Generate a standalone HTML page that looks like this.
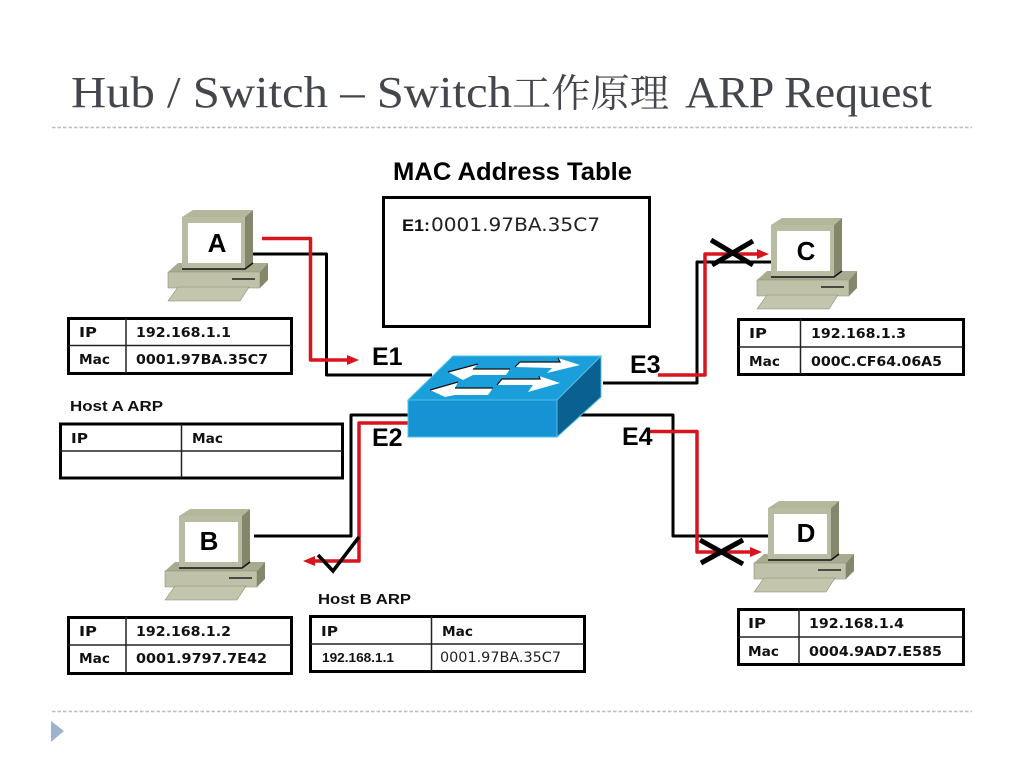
<!DOCTYPE html>
<html lang="zh">
<head>
<meta charset="utf-8">
<title>Hub / Switch – Switch工作原理 ARP Request</title>
<style>
html,body{margin:0;padding:0;background:#fff;}
svg{display:block;}
.t{font-family:"DejaVu Sans",sans-serif;font-weight:bold;font-size:13px;fill:#111;}
.h{font-family:"Liberation Sans",sans-serif;font-weight:bold;font-size:15px;fill:#111;}
.e{font-family:"Liberation Sans",sans-serif;font-weight:bold;font-size:25px;fill:#000;}
.l{font-family:"Liberation Sans",sans-serif;font-weight:bold;font-size:26px;fill:#000;text-anchor:middle;}
.title{font-family:"Liberation Serif","Noto Serif CJK SC",serif;font-size:44px;fill:#44464d;}
.bk{fill:none;stroke:#000;stroke-width:3;stroke-linejoin:round;}
.rd{fill:none;stroke:#d8141c;stroke-width:3.500;stroke-linejoin:round;}
.tb{fill:#fff;stroke:#000;stroke-width:3;}
.ln{stroke:#222;stroke-width:1.5;fill:none;}
</style>
</head>
<body>
<svg width="1024" height="768" viewBox="0 0 1024 768" xmlns="http://www.w3.org/2000/svg">
<defs>
<g id="pc">
  <polygon points="0,62 10,53 100,53 92,62" fill="#a9ab90"/>
  <polygon points="0,62 92,62 92,78 0,78" fill="#bfc1a8" stroke="#8a8c74" stroke-width=".6"/>
  <polygon points="92,62 100,53 100,70 92,78" fill="#85876d"/>
  <line x1="64" y1="69" x2="87" y2="69" stroke="#222" stroke-width="1.5"/>
  <polygon points="0,91 10,77 81,77 72,91" fill="#c3c5ad" stroke="#8a8c74" stroke-width=".6"/>
  <polygon points="14,7 25,0 85,0 77,7" fill="#b5b79d"/>
  <polygon points="77,7 85,0 85,53 77,59" fill="#85876d"/>
  <polygon points="14,7 77,7 77,59 14,59" fill="#b9bba2"/>
  <path d="M14,59H77L85,53" fill="none" stroke="#111" stroke-width="1.5"/>
  <rect x="20" y="13" width="53" height="40" fill="#fff"/>
</g>
</defs>

<rect width="1024" height="768" fill="#fff"/>

<!-- Title -->
<text class="title" x="71" y="107" textLength="441" lengthAdjust="spacingAndGlyphs">Hub / Switch – Switch</text>
<text class="title" x="512" y="107" textLength="157" lengthAdjust="spacingAndGlyphs" style="font-size:39px">工作原理</text>
<text class="title" x="685" y="107" textLength="247" lengthAdjust="spacingAndGlyphs">ARP Request</text>
<line x1="52" y1="127.500" x2="972" y2="127.500" stroke="#bdbdbd" stroke-width="1.500" stroke-dasharray="3.500 2"/>
<line x1="52" y1="711.500" x2="972" y2="711.500" stroke="#bdbdbd" stroke-width="1.500" stroke-dasharray="3.500 2"/>
<polygon points="51,721 64,731 51,742" fill="#9db2cc"/>

<!-- MAC table -->
<text x="393" y="180" font-family="'Liberation Sans',sans-serif" font-weight="bold" font-size="25" fill="#000" textLength="239" lengthAdjust="spacingAndGlyphs">MAC Address Table</text>
<rect x="383.500" y="197.500" width="266" height="129" fill="#fff" stroke="#000" stroke-width="3"/>
<text x="402" y="231" class="h" style="font-size:17px" textLength="28" lengthAdjust="spacingAndGlyphs">E1:</text>
<text x="431" y="231" font-family="'DejaVu Sans',sans-serif" font-size="19" fill="#222" textLength="169" lengthAdjust="spacingAndGlyphs">0001.97BA.35C7</text>

<!-- Wires -->
<path class="bk" d="M253,254H326.500V375H432"/>
<path class="rd" d="M262,238.500H310.500V360H350"/>
<polygon points="347,355 359,360 347,365" fill="#d8141c"/>

<path class="bk" d="M603,383H697V262H772"/>
<path class="rd" d="M658,375H705V254H760"/>
<polygon points="757,249 769,254 757,259" fill="#d8141c"/>

<path class="bk" d="M580,415H673V536H772"/>
<path class="rd" d="M650,431.500H697V552H752"/>
<polygon points="750,547 762,552 750,557" fill="#d8141c"/>

<path class="bk" d="M410,415H351V536H254"/>
<path class="rd" d="M408,423H359V561H312"/>
<polygon points="315,556 303,561 315,566" fill="#d8141c"/>

<!-- Computers -->
<use href="#pc" x="168" y="210"/>
<use href="#pc" x="165" y="509"/>
<use href="#pc" x="757" y="218"/>
<use href="#pc" x="754" y="501"/>
<text class="l" x="217" y="252">A</text>
<text class="l" x="209" y="550">B</text>
<text class="l" x="806" y="260">C</text>
<text class="l" x="806" y="542">D</text>

<!-- Crosses and check -->
<path d="M711,240L753,265M712,265L753,241" stroke="#000" stroke-width="5" fill="none"/>
<path d="M700,540L743,564M701,563L743,540" stroke="#000" stroke-width="5" fill="none"/>
<path d="M318,555L333,571L359,537" stroke="#000" stroke-width="3.500" fill="none"/>

<!-- Switch -->
<polygon points="408,400 453,356 601,356 557,400" fill="#1a9fdb" stroke="#4fc0ec" stroke-width="1"/>
<polygon points="408,400 557,400 557,437 408,437" fill="#1593d2" stroke="#4fc0ec" stroke-width="1"/>
<polygon points="557,400 601,356 601,397 557,437" fill="#0a6090" stroke="#4fc0ec" stroke-width="1"/>
<g fill="#fff" stroke="none">
  <polygon points="448,372 478,364 473,369 510,369 506,375 473,375 463,380"/>
  <polygon points="430,390 458,382 455,388 493,388 488,395 455,395 445,397"/>
  <polygon points="515,367 520,362 560,362 558,358 580,365 547,373 552,368"/>
  <polygon points="497,385 502,379 540,379 539,376 560,383 528,392 533,385"/>
</g>
<g fill="none" stroke="#111" stroke-width="1.200">
  <path d="M448,372L478,364M473,369H510"/>
  <path d="M430,390L458,382M455,388H493"/>
  <path d="M515,367L520,362H560L558,358"/>
  <path d="M497,385L502,379H540L539,376"/>
</g>

<!-- Port labels -->
<text class="e" x="372" y="365">E1</text>
<text class="e" x="630" y="373">E3</text>
<text class="e" x="372" y="446">E2</text>
<text class="e" x="622" y="445">E4</text>

<!-- Table A -->
<rect class="tb" x="68.500" y="318.500" width="223" height="55"/>
<path class="ln" d="M126,318V373M68,345.500H291"/>
<text class="t" x="79" y="337" textLength="18" lengthAdjust="spacingAndGlyphs">IP</text>
<text class="t" x="136" y="337" textLength="95" lengthAdjust="spacingAndGlyphs">192.168.1.1</text>
<text class="t" x="79" y="364" textLength="31" lengthAdjust="spacingAndGlyphs">Mac</text>
<text class="t" x="136" y="364" textLength="132" lengthAdjust="spacingAndGlyphs">0001.97BA.35C7</text>

<!-- Host A ARP -->
<text class="h" x="70" y="411" textLength="93" lengthAdjust="spacingAndGlyphs">Host A ARP</text>
<rect class="tb" x="60.500" y="424" width="282" height="54"/>
<path class="ln" d="M181.500,424V478M60,451H342"/>
<text class="t" x="71" y="443" textLength="17" lengthAdjust="spacingAndGlyphs">IP</text>
<text class="t" x="192" y="443" textLength="31" lengthAdjust="spacingAndGlyphs">Mac</text>

<!-- Table C -->
<rect class="tb" x="738.500" y="319.500" width="225" height="55"/>
<path class="ln" d="M800.500,319V374M738,347H963"/>
<text class="t" x="749" y="338" textLength="18" lengthAdjust="spacingAndGlyphs">IP</text>
<text class="t" x="811" y="338" textLength="95" lengthAdjust="spacingAndGlyphs">192.168.1.3</text>
<text class="t" x="749" y="366" textLength="31" lengthAdjust="spacingAndGlyphs">Mac</text>
<text class="t" x="811" y="366" textLength="131" lengthAdjust="spacingAndGlyphs">000C.CF64.06A5</text>

<!-- Table B -->
<rect class="tb" x="68.500" y="617.500" width="223" height="56"/>
<path class="ln" d="M126,617V673M68,645H291"/>
<text class="t" x="79" y="636" textLength="18" lengthAdjust="spacingAndGlyphs">IP</text>
<text class="t" x="136" y="636" textLength="95" lengthAdjust="spacingAndGlyphs">192.168.1.2</text>
<text class="t" x="79" y="663" textLength="31" lengthAdjust="spacingAndGlyphs">Mac</text>
<text class="t" x="136" y="663" textLength="131" lengthAdjust="spacingAndGlyphs">0001.9797.7E42</text>

<!-- Host B ARP -->
<text class="h" x="318" y="604" textLength="93" lengthAdjust="spacingAndGlyphs">Host B ARP</text>
<rect class="tb" x="310.500" y="616.500" width="274" height="55"/>
<path class="ln" d="M431.500,616V671M310,644H584"/>
<text class="t" x="321" y="636" textLength="17" lengthAdjust="spacingAndGlyphs">IP</text>
<text class="t" x="442" y="636" textLength="31" lengthAdjust="spacingAndGlyphs">Mac</text>
<text class="h" x="322" y="662" style="font-size:13px" textLength="72" lengthAdjust="spacingAndGlyphs">192.168.1.1</text>
<text x="440" y="662" font-family="'DejaVu Sans',sans-serif" font-size="14" fill="#222" textLength="121" lengthAdjust="spacingAndGlyphs">0001.97BA.35C7</text>

<!-- Table D -->
<rect class="tb" x="738.500" y="609.500" width="225" height="55"/>
<path class="ln" d="M799,609V664M738,637H963"/>
<text class="t" x="748" y="628" textLength="18" lengthAdjust="spacingAndGlyphs">IP</text>
<text class="t" x="809" y="628" textLength="95" lengthAdjust="spacingAndGlyphs">192.168.1.4</text>
<text class="t" x="748" y="656" textLength="31" lengthAdjust="spacingAndGlyphs">Mac</text>
<text class="t" x="809" y="656" textLength="133" lengthAdjust="spacingAndGlyphs">0004.9AD7.E585</text>
</svg>
</body>
</html>
